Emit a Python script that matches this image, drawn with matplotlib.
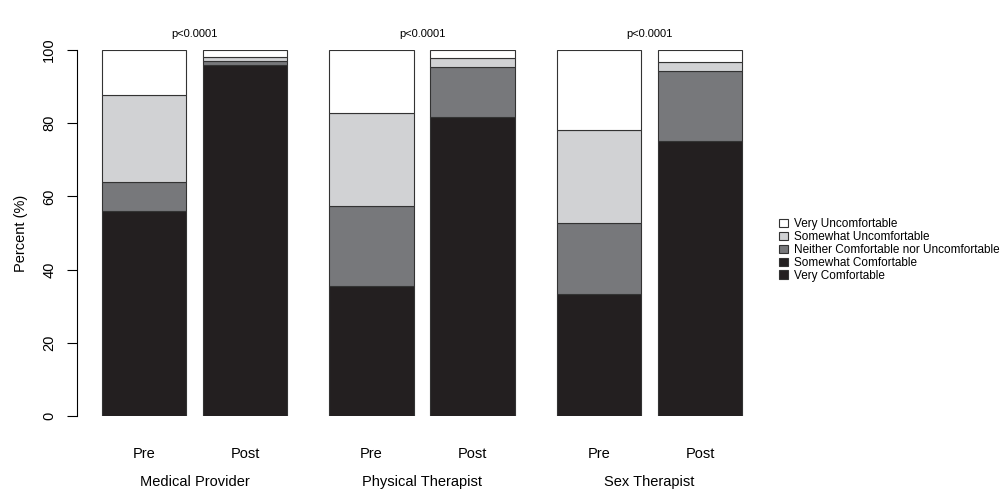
import matplotlib
matplotlib.use("Agg")
import matplotlib.pyplot as plt
import numpy as np

plt.rcParams['font.family'] = ['Liberation Sans', 'DejaVu Sans']

groups = ['Medical Provider', 'Physical Therapist', 'Sex Therapist']
times = ['Pre', 'Post', 'Pre', 'Post', 'Pre', 'Post']
pvals = ['p<0.0001', 'p<0.0001', 'p<0.0001']

# stacked from the bottom up; the two "comfortable" levels share one colour
# in the picture, so the split can't be read - it's all put in "Very"
levels = ['Very Comfortable', 'Somewhat Comfortable',
          'Neither Comfortable nor Uncomfortable',
          'Somewhat Uncomfortable', 'Very Uncomfortable']
very_comf = [56.0, 95.8, 35.4, 81.8, 33.4, 75.2]
somewhat_comf = [0, 0, 0, 0, 0, 0]
neither = [8.0, 1.2, 22.0, 13.6, 19.4, 19.0]
somewhat_unc = [23.7, 1.0, 25.4, 2.3, 25.3, 2.4]
very_unc = [12.3, 2.0, 17.2, 2.3, 21.9, 3.4]

colors = ['#231f20', '#231f20', '#77787b', '#d1d2d4', '#ffffff']

fig = plt.figure(figsize=(10.02, 4.92), dpi=100)
ax = fig.add_axes([77 / 1002, 76 / 492, (760 - 77) / 1002, 366 / 492])

# bar left edges: width 1, 0.2 between pre/post, 0.5 between groups
lefts = np.array([0, 1.2, 2.7, 3.9, 5.4, 6.6])
centers = lefts + 0.5

series = [very_comf, somewhat_comf, neither, somewhat_unc, very_unc]
bottom = np.zeros(6)
handles = []
for lab, vals, c in zip(levels, series, colors):
    vals = np.array(vals, dtype=float)
    b = ax.bar(centers, vals, width=1.0, bottom=bottom, color=c,
               edgecolor='#333333', linewidth=0.8, label=lab)
    handles.append(b)
    bottom += vals

ax.set_xlim(-0.293, 7.81)
ax.set_ylim(0, 100)
for s in ['top', 'right', 'bottom']:
    ax.spines[s].set_visible(False)
ax.spines['left'].set_bounds(0, 100)
ax.spines['left'].set_linewidth(0.8)
ax.set_yticks([0, 20, 40, 60, 80, 100])
ax.set_yticklabels(['0', '20', '40', '60', '80', '100'], rotation=90,
                   va='center', fontsize=10.5)
ax.tick_params(axis='y', length=7, width=0.8, pad=8)
ax.set_ylabel('Percent (%)', fontsize=10.5, labelpad=10)

ax.set_xticks(centers)
ax.set_xticklabels(times, fontsize=10.5)
ax.tick_params(axis='x', length=0, pad=22)

for i, g in enumerate(groups):
    gx = (centers[2 * i] + centers[2 * i + 1]) / 2
    ax.annotate(g, xy=(gx, 0), xycoords=('data', 'axes fraction'),
                xytext=(0, -66), textcoords='offset pixels',
                ha='center', va='center', fontsize=10.5)
    ax.text(gx, 104.5, pvals[i], ha='center', va='center', fontsize=8,
            clip_on=False)

leg = fig.legend(handles[::-1], levels[::-1], loc='center left',
                 bbox_to_anchor=(779 / 1002, 242 / 492), frameon=False,
                 fontsize=8.5, handlelength=0.75, handleheight=0.75,
                 handletextpad=0.5, labelspacing=0.08, borderaxespad=0,
                 borderpad=0)

fig.savefig('out.png', dpi=100)
